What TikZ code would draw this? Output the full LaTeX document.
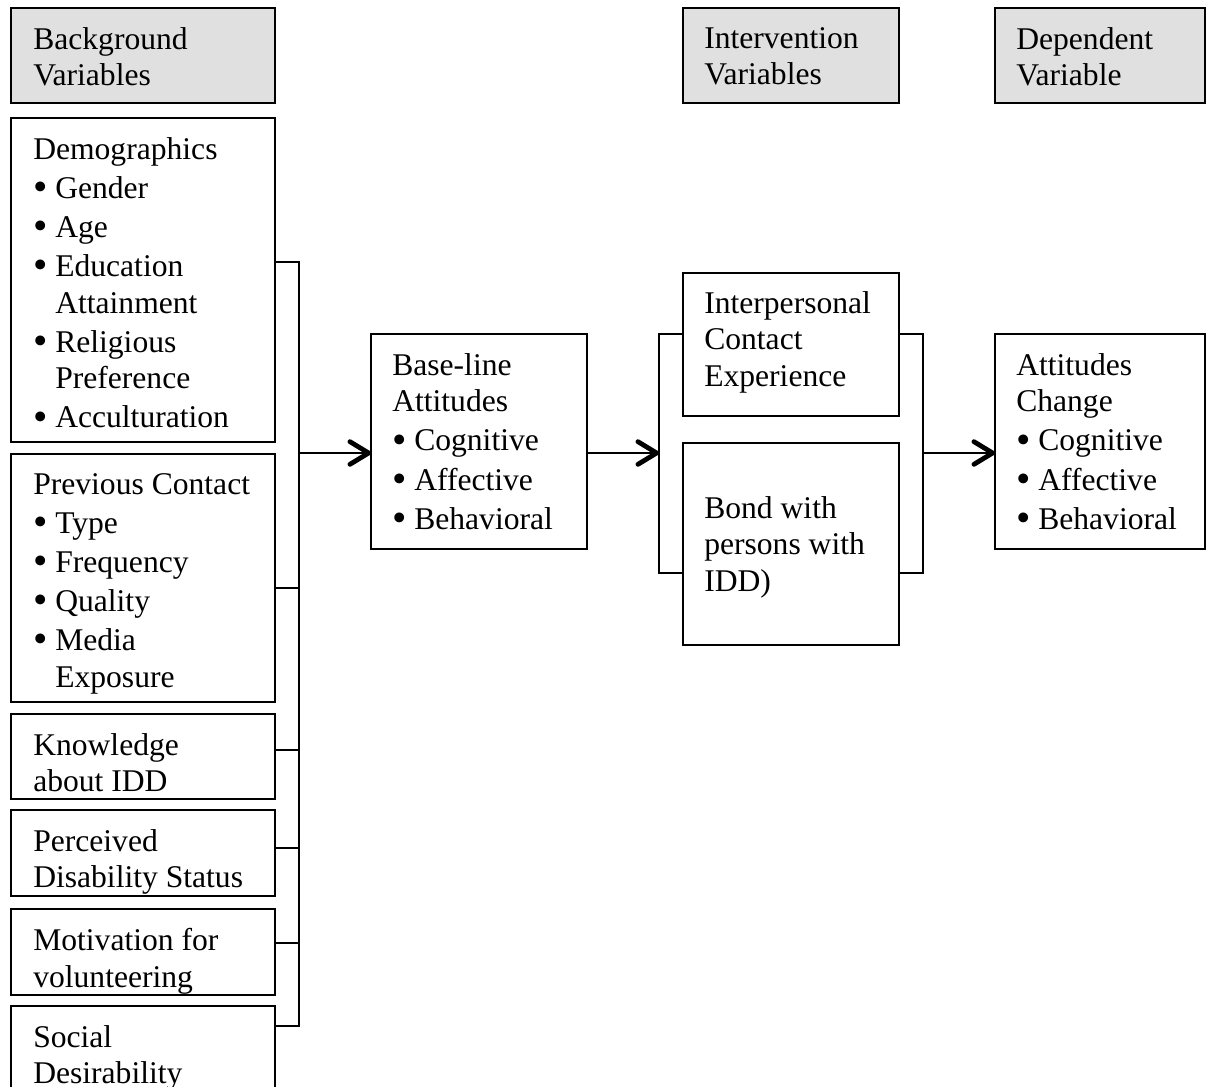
\documentclass[tikz,border=0pt]{standalone}
\usepackage{fontspec}
\usepackage{graphicx}
\setmainfont{Liberation Serif}
\usetikzlibrary{arrows.meta}
\definecolor{hdrgray}{RGB}{224,224,224}
\newcommand{\bul}{\makebox[16.5pt][l]{\raisebox{-1.8pt}{\scalebox{1.3}{\textbullet}}}}
\newcommand{\ind}{\hspace*{16.5pt}}
\newcommand{\pbox}[6][]{\node[box,#1,anchor=north west,minimum width={(#4-#2)*0.75pt},minimum height={(#5-#3)*0.75pt}] (#6) at (#2,#3) {};}
\begin{document}
\begin{tikzpicture}[x=0.75pt,y=-0.75pt,
  box/.style={draw=black,line width=1.7pt,inner sep=0pt,outer sep=0pt},
  hdr/.style={fill=hdrgray},
  txt/.style={anchor=north west,inner sep=0pt,align=left,font=\fontsize{23.7pt}{27.5pt}\selectfont},
  conn/.style={line width=1.7pt,line join=miter},
  arr/.style={line width=1.7pt,-{Straight Barb[length=14pt,width=17pt,line width=3.6pt,round]}}]
\useasboundingbox (0,0) rectangle (1206,1086);
\clip (0,0) rectangle (1206,1086);
% header boxes
\pbox[hdr]{11}{8}{275}{103}{hBG}
\pbox[hdr]{683}{8}{899}{103}{hIV}
\pbox[hdr]{995}{8}{1205}{103}{hDV}
\node[txt] (tBG) at (33,27) {Background\\Variables};
\node[txt] (tIV) at (704,27) {Intervention\\Variables};
\node[txt] (tDV) at (1016,27) {Dependent\\Variable};
% background variable boxes
\pbox{11}{118}{275}{442}{demo}
\pbox{11}{454}{275}{702}{prev}
\pbox{11}{714}{275}{799}{know}
\pbox{11}{810}{275}{896}{perc}
\pbox{11}{909}{275}{995}{motiv}
\pbox{11}{1006}{275}{1110}{social}
\node[txt] (tdemo) at (33,137) {Demographics\\[1.8pt]
 \bul Gender\\[1.8pt] \bul Age\\[1.8pt] \bul Education\\ \ind Attainment\\[1.8pt]
 \bul Religious\\ \ind Preference\\[1.8pt] \bul Acculturation};
\node[txt] (tprev) at (33,473) {Previous Contact\\[1.8pt]
 \bul Type\\[1.8pt] \bul Frequency\\[1.8pt] \bul Quality\\[1.8pt] \bul Media\\ \ind Exposure};
\node[txt] (tknow) at (33,733) {Knowledge\\about IDD};
\node[txt] (tperc) at (33,829) {Perceived\\Disability Status};
\node[txt] (tmotiv) at (33,928) {Motivation for\\volunteering};
\node[txt] (tsocial) at (33,1025) {Social\\Desirability};
% middle boxes
\pbox{371}{334}{587}{549}{base}
\node[txt] (tbase) at (392,353) {Base-line\\Attitudes\\[1.8pt]
 \bul Cognitive\\[1.8pt] \bul Affective\\[1.8pt] \bul Behavioral};
\pbox{683}{273}{899}{416}{interp}
\node[txt] (tinterp) at (704,291) {Interpersonal\\Contact\\Experience};
\pbox{683}{443}{899}{645}{bond}
\node[txt] (tbond) at (704,496) {Bond with\\persons with\\IDD)};
\pbox{995}{334}{1205}{549}{change}
\node[txt] (tchange) at (1016,353) {Attitudes\\Change\\[1.8pt]
 \bul Cognitive\\[1.8pt] \bul Affective\\[1.8pt] \bul Behavioral};
% left bracket
\coordinate (LBt) at (299,262);
\coordinate (LB2) at (299,588);
\coordinate (LB3) at (299,750);
\coordinate (LB4) at (299,848);
\coordinate (LB5) at (299,943);
\coordinate (LBb) at (299,1026);
\coordinate (LBa) at (299,453);
\draw[conn] (demo.east |- LBt) -- (LBt) -- (LBb) -- (social.east |- LBb);
\draw[conn] (prev.east |- LB2) -- (LB2);
\draw[conn] (know.east |- LB3) -- (LB3);
\draw[conn] (perc.east |- LB4) -- (LB4);
\draw[conn] (motiv.east |- LB5) -- (LB5);
\draw[arr] (LBa) -- (base.west |- LBa);
% middle bracket
\coordinate (MBt) at (659,334);
\coordinate (MBb) at (659,573);
\coordinate (MBa) at (659,453);
\draw[conn] (interp.west |- MBt) -- (MBt) -- (MBb) -- (bond.west |- MBb);
\draw[arr] (base.east |- MBa) -- (MBa);
% right bracket
\coordinate (RBt) at (923,334);
\coordinate (RBb) at (923,573);
\coordinate (RBa) at (923,453);
\draw[conn] (interp.east |- RBt) -- (RBt) -- (RBb) -- (bond.east |- RBb);
\draw[arr] (RBa) -- (change.west |- RBa);
\end{tikzpicture}
\end{document}
